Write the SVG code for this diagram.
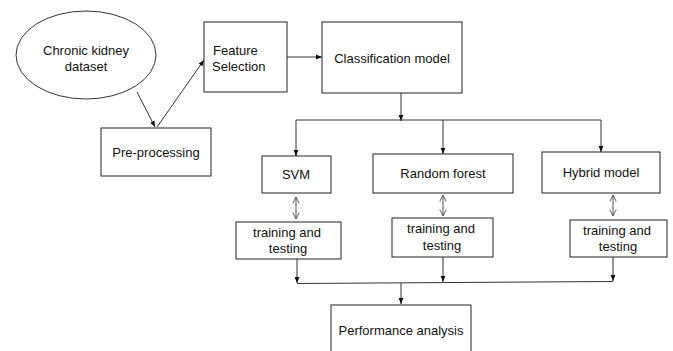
<svg xmlns="http://www.w3.org/2000/svg" width="673" height="351" viewBox="0 0 673 351">
<style>
.box{fill:#fff;stroke:#222;stroke-width:1}
.t{font-family:"Liberation Sans",Arial,sans-serif;font-size:13px;fill:#111}
.c{text-anchor:middle}
.ln{fill:none;stroke:#333;stroke-width:1}
.dbl{fill:none;stroke:#555;stroke-width:1}
</style>
<defs>
<marker id="ah" viewBox="0 0 10 10" refX="10" refY="5" markerWidth="6" markerHeight="6" orient="auto" markerUnits="userSpaceOnUse">
<path d="M0,1 L10,5 L0,9 z" fill="#111"/>
</marker>
<marker id="oa" viewBox="0 0 10 10" refX="9" refY="5" markerWidth="8" markerHeight="8" orient="auto-start-reverse" markerUnits="userSpaceOnUse">
<path d="M1,1 L9,5 L1,9" fill="none" stroke="#555" stroke-width="1.2"/>
</marker>
</defs>
<rect width="673" height="351" fill="#fff"/>
<g id="connectors">
<line class="ln" x1="137" y1="92" x2="155" y2="127" marker-end="url(#ah)"/>
<line class="ln" x1="157" y1="127" x2="204" y2="60" marker-end="url(#ah)"/>
<line class="ln" x1="287" y1="57" x2="322" y2="57" marker-end="url(#ah)"/>
<line class="ln" x1="401" y1="93" x2="401" y2="121" marker-end="url(#ah)"/>
<polyline class="ln" points="296,156 296,120 601,120 601,151"/>
<line class="ln" x1="296" y1="150" x2="296" y2="156" marker-end="url(#ah)"/>
<line class="ln" x1="601" y1="146" x2="601" y2="152" marker-end="url(#ah)"/>
<line class="ln" x1="443" y1="120" x2="443" y2="154" marker-end="url(#ah)"/>
<line class="dbl" x1="296" y1="197" x2="296" y2="219" marker-start="url(#oa)" marker-end="url(#oa)"/>
<line class="dbl" x1="443" y1="195" x2="443" y2="216" marker-start="url(#oa)" marker-end="url(#oa)"/>
<line class="dbl" x1="613" y1="195" x2="613" y2="216" marker-start="url(#oa)" marker-end="url(#oa)"/>
<line class="ln" x1="297" y1="259" x2="297" y2="283" marker-end="url(#ah)"/>
<line class="ln" x1="443" y1="257" x2="443" y2="282" marker-end="url(#ah)"/>
<line class="ln" x1="613" y1="257" x2="613" y2="281" marker-end="url(#ah)"/>
<line class="ln" x1="297" y1="283.5" x2="613" y2="281.5"/>
<line class="ln" x1="401" y1="283" x2="401" y2="304" marker-end="url(#ah)"/>
</g>
<g id="dataset">
<ellipse cx="86" cy="55" rx="70" ry="44" fill="#fff" stroke="#333" stroke-width="1"/>
<text class="t c" x="86" y="55">Chronic kidney</text>
<text class="t c" x="86" y="71">dataset</text>
</g>
<g id="preprocessing">
<rect class="box" x="101" y="128" width="110" height="48"/>
<text class="t c" x="156" y="157">Pre-processing</text>
</g>
<g id="feature-selection">
<rect class="box" x="204" y="22" width="83" height="70"/>
<text class="t" x="213" y="55">Feature</text>
<text class="t" x="212" y="71">Selection</text>
</g>
<g id="classification-model">
<rect class="box" x="322" y="22" width="140" height="71"/>
<text class="t c" x="392" y="63">Classification model</text>
</g>
<g id="svm">
<rect class="box" x="262" y="156" width="69" height="37"/>
<text class="t c" x="296" y="179">SVM</text>
</g>
<g id="random-forest">
<rect class="box" x="373" y="154" width="140" height="39"/>
<text class="t c" x="443" y="178">Random forest</text>
</g>
<g id="hybrid-model">
<rect class="box" x="542" y="152" width="118" height="41"/>
<text class="t c" x="601" y="177">Hybrid model</text>
</g>
<g id="tt-svm">
<rect class="box" x="236" y="222" width="105" height="37"/>
<text class="t c" x="287" y="237">training and</text>
<text class="t c" x="288" y="253">testing</text>
</g>
<g id="tt-rf">
<rect class="box" x="392" y="218" width="101" height="39"/>
<text class="t c" x="441" y="233">training and</text>
<text class="t c" x="442" y="250">testing</text>
</g>
<g id="tt-hybrid">
<rect class="box" x="570" y="220" width="97" height="37"/>
<text class="t c" x="617" y="235">training and</text>
<text class="t c" x="618" y="251">testing</text>
</g>
<g id="performance-analysis">
<rect class="box" x="331" y="305" width="140" height="60"/>
<text class="t c" x="401" y="335">Performance analysis</text>
</g>
</svg>
